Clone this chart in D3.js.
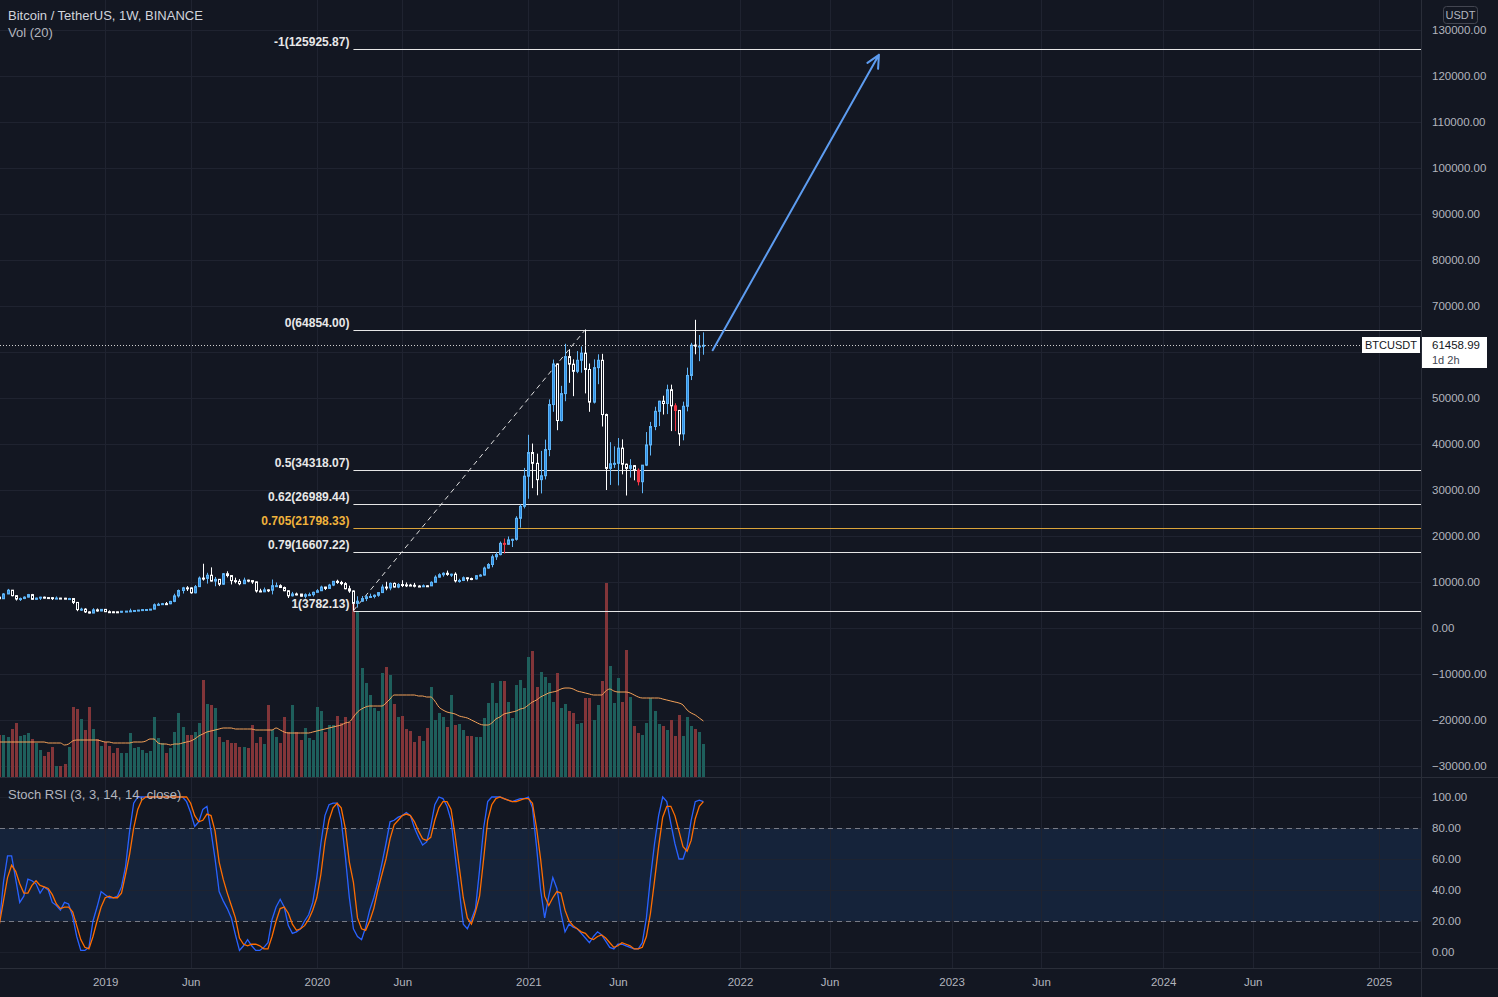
<!DOCTYPE html>
<html><head><meta charset="utf-8">
<script src="https://cdn.jsdelivr.net/npm/d3@7"></script>
<style>
html,body{margin:0;padding:0;background:#131722;overflow:hidden;}
svg{display:block;}
text{font-family:"Liberation Sans",Arial,sans-serif;}
</style></head><body>
<svg id="c" width="1498" height="997"></svg>
<script>
// ---------------- DATA ----------------
const firstWeek = "2018-07-02"; // Monday of first weekly bar
// weekly OHLC [open, high, low, close]
const ohlc = [
[6390,6840,6320,6710],[6710,6780,6070,6360],[6360,7590,6320,7400],[7400,8500,7360,8220],[8220,8270,6880,7030],
[7030,7140,5970,6300],[6300,6620,5880,6400],[6400,6880,6280,6710],[6710,7410,6650,7260],[7260,7410,6110,6240],
[6240,6600,6170,6500],[6500,6800,6100,6700],[6700,6820,6400,6610],[6610,6690,6500,6600],[6600,6680,6080,6400],
[6400,6850,6400,6500],[6500,6550,6390,6480],[6480,6550,6260,6380],[6380,6550,6360,6400],[6400,6410,5200,5560],
[5560,5650,3650,4000],[4000,4400,3700,4100],[4100,4300,3280,3500],[3500,3620,3160,3250],[3250,4300,3230,3950],
[3950,4240,3550,3700],[3700,4100,3650,4050],[4050,4100,3500,3540],[3540,3820,3520,3530],[3530,3640,3490,3520],
[3520,3570,3350,3420],[3420,3700,3370,3640],[3640,3700,3580,3670],[3670,4200,3670,3730],[3730,3900,3680,3810],
[3810,3920,3680,3900],[3900,4050,3830,4000],[4000,4100,3920,4020],[4020,4130,3950,4100],[4100,5340,4080,5050],
[5050,5470,4900,5150],[5150,5450,5050,5290],[5290,5650,5050,5270],[5270,5900,5170,5780],[5780,7450,5600,6980],
[6980,8370,6600,8150],[8150,8950,7500,8730],[8730,9100,8050,8720],[8720,8820,7450,7650],[7650,9350,7530,8990],
[8990,11200,8950,10850],[10850,13970,10300,10780],[10780,12000,9650,11470],[11470,13180,10100,10200],[10200,11100,9070,10580],
[10580,10650,9110,9520],[9520,11950,9400,11800],[11800,12330,11000,11400],[11400,11500,9470,10300],[10300,10950,9700,10140],
[10140,10620,9300,9630],[9630,10950,9600,10400],[10400,10500,9950,10300],[10300,10350,9600,10030],[10030,10070,7700,8050],
[8050,8530,7800,7870],[7870,8800,7800,8290],[8290,8410,7800,8220],[8220,10540,7300,9200],[9200,9900,9000,9200],
[9200,9500,8700,8800],[8800,9000,8000,8100],[8100,8200,6520,7000],[7000,7850,6850,7400],[7400,7700,7100,7380],
[7380,7400,6850,6900],[6900,7530,6430,7230],[7230,7690,7090,7250],[7250,7900,6850,7760],[7760,8450,7700,8100],
[8100,9200,8050,8900],[8900,8950,8250,8600],[8600,9600,8550,9330],[9330,10200,9100,10150],[10150,10500,9600,9900],
[9900,10250,9300,9650],[9650,9960,8410,8530],[8530,9200,7640,8050],[8050,8180,3782,5360],[5360,6900,4440,5830],
[5830,6950,5700,6400],[6400,7200,5850,6780],[6780,7470,6550,6850],[6850,7300,6450,7120],[7120,7750,6800,7700],
[7700,9460,7600,8900],[8900,10050,8200,8700],[8700,9900,8200,9700],[9700,9900,8800,8900],[8900,9750,8650,9450],
[9450,10380,8900,9380],[9380,9900,8900,9330],[9330,9600,9200,9290],[9290,9800,8830,9120],[9120,9300,8900,9070],
[9070,9470,9050,9180],[9180,9300,9050,9160],[9160,10150,9130,9930],[9930,11450,9900,11050],[11050,11900,10950,11580],
[11580,12100,11150,11900],[11900,12480,11350,11650],[11650,11800,11100,11700],[11700,12100,9900,10250],[10250,10700,9850,10330],
[10330,11200,10200,10920],[10920,11000,10150,10750],[10750,10950,10400,10670],[10670,11500,10530,11370],[11370,11700,11200,11500],
[11500,13350,11400,13030],[13030,14100,12900,13800],[13800,15960,13200,15480],[15480,16480,14800,15960],[15960,18800,15800,18400],
[18400,19450,16200,18200],[18200,19900,18100,19150],[19150,19400,17600,19280],[19280,24300,19000,23850],[23850,26900,21800,26450],
[26450,34800,26000,33000],[33000,42000,28100,38150],[38150,40100,30400,35800],[35800,37900,28850,32250],[32250,38500,29250,33100],
[33100,40950,32300,38800],[38800,49700,37350,48580],[48580,58350,47000,57400],[57400,57500,43000,45100],[45100,52640,44900,50960],
[50960,61780,49300,59000],[59000,60600,53300,57350],[57350,58400,50400,55800],[55800,60200,55400,58200],[58200,61200,55500,59750],
[59750,64854,51000,56200],[56200,57500,47000,49100],[49100,58400,48800,56600],[56600,59500,53000,58200],[58200,59600,43800,46400],
[46400,46600,30000,34700],[34700,40400,31100,35700],[35700,39500,34800,35800],[35800,41300,31000,39100],[39100,41000,33400,35600],
[35600,35750,28800,34700],[34700,36700,32700,35300],[35300,35400,32100,34300],[34300,34700,31000,31800],[31800,35400,29300,35400],
[35400,42600,35200,39800],[39800,44800,37500,43800],[43800,48100,43000,47100],[47100,49400,43900,49300],[49300,50500,46400,48800],
[48800,52900,46500,51800],[51800,52900,42800,48300],[48300,48850,42800,47300],[47300,47400,39600,42200],[42200,49200,40800,48200],
[48200,56600,47100,54900],[54900,62000,53900,61500],[61500,67000,59500,61300],[61300,63700,58000,61300],[61300,64270,59400,61459]
];
// weeks whose candle is painted red on the chart
const redWeeks = ["2020-11-23","2021-07-12","2021-09-13"];
// weekly volume (relative units)
const volume = [
42,42,42,40,48,54,41,42,44,38,34,27,21,25,30,11,11,13,30,70,
68,58,47,70,48,38,31,35,31,24,29,24,24,44,29,30,27,24,26,60,
39,34,24,29,45,64,50,42,42,45,54,97,73,72,69,40,35,37,34,34,
30,30,29,52,34,40,33,72,47,40,34,60,45,72,45,37,49,39,37,70,
66,45,52,52,61,54,60,55,179,165,109,94,82,69,66,104,110,102,73,60,
61,48,46,35,41,36,49,90,57,64,60,50,82,52,53,47,41,41,40,40,
59,74,94,74,96,96,75,59,92,97,89,120,126,90,105,100,94,75,104,69,
73,66,64,53,54,79,79,57,72,96,194,111,74,99,75,127,80,51,44,42,
54,79,66,53,51,47,57,41,62,41,60,51,48,45,33
];
// Vol (20) moving average
const volMA = [
35,35,35,35,35,35,35,35,35,35,35,35,35,34,34,34,34,32,33,36,
37,37,37,37,37,37,36,35,35,34,34,34,34,34,35,35,35,36,38,38,
34,33,33,32,33,33,34,35,36,38,41,43,45,46,47,48,49,49,49,48,
48,48,48,48,47,47,47,47,47,49,47,45,44,44,44,44,44,44,45,46,
47,48,49,50,51,52,54,55,60,65,68,70,71,71,71,71,74,78,82,82,
82,82,82,82,81,81,80,80,76,70,67,65,64,63,61,60,59,57,55,53,
52,52,54,58,60,63,64,65,66,68,69,72,75,77,80,82,84,85,86,88,
89,89,88,86,85,84,83,82,82,82,86,88,86,85,85,85,84,82,80,79,
79,79,79,79,78,77,76,75,74,72,67,64,62,59,56
];
// Stoch RSI %K and %D
const stochK = [
8,19,45,62,62,47,32,36,47,46,44,38,42,40,32,30,27,32,31,23,
10,1,1,3,20,29,39,37,35,35,36,42,55,78,96,100,100,100,100,100,
100,100,100,100,100,100,100,97,90,81,84,92,94,78,60,39,33,28,22,11,
1,4,8,4,1,1,3,6,21,29,34,29,17,12,13,15,20,24,32,48,
70,88,95,96,96,85,62,35,15,10,8,16,27,35,45,57,70,84,85,87,
88,90,88,80,74,69,71,81,95,100,99,94,85,62,40,18,15,21,28,53,
80,97,100,100,100,99,98,97,98,99,99,100,93,68,40,22,36,48,41,25,
13,18,16,15,12,9,6,10,13,11,7,3,2,5,5,4,3,2,2,6,
22,48,70,88,100,97,83,70,60,60,68,85,97,98,97
];
const stochD = [
14,18,33,48,56,52,44,38,38,43,46,43,42,41,37,31,28,29,29,26,
17,8,3,2,10,20,29,35,36,35,35,38,50,63,80,92,98,100,100,100,
100,100,100,100,100,100,100,100,96,88,84,85,89,88,78,58,47,38,30,22,
9,5,4,5,5,4,2,2,10,20,28,29,25,18,14,15,17,21,27,35,
50,71,85,93,96,93,80,58,45,22,15,14,20,28,40,50,60,73,82,85,
88,89,88,84,78,73,72,74,85,93,97,97,92,75,55,35,22,18,26,36,
60,85,95,99,100,99,98,97,97,98,99,99,96,80,60,36,30,35,39,38,
27,20,17,15,13,12,9,8,10,11,9,6,3,4,6,5,4,2,2,3,
10,25,46,68,87,94,94,88,78,68,65,72,86,94,97
];
// Fibonacci retracement levels
const fibLevels = ["-1","0","0.5","0.62","0.705","0.79","1"];
const fibPrices = [125925.87,64854.00,34318.07,26989.44,21798.33,16607.22,3782.13];
const fibStart = "2020-03-09";
// trend line (swing low -> swing high) and projection arrow
const trendPts = [["2020-03-09",3782.13],["2021-04-12",64854]];
const arrowPts = [["2021-11-17",60400],["2022-08-30",124600]];
const lastPrice = 61458.99;
const lastTimer = "1d 2h";
// axis ticks (60000 label is hidden behind the last-price tag in the original)
const priceTicks = [-30000,-20000,-10000,0,10000,20000,30000,40000,50000,60000,70000,80000,90000,100000,110000,120000,130000];
const priceLabelTicks = [-30000,-20000,-10000,0,10000,20000,30000,40000,50000,70000,80000,90000,100000,110000,120000,130000];
const stochTicks = [0,20,40,60,80,100];
const timeTicks = [["2019-01-07","2019"],["2019-06-03","Jun"],["2020-01-06","2020"],["2020-06-01","Jun"],["2021-01-04","2021"],["2021-06-07","Jun"],["2022-01-03","2022"],["2022-06-06","Jun"],["2023-01-02","2023"],["2023-06-05","Jun"],["2024-01-01","2024"],["2024-06-03","Jun"],["2025-01-06","2025"]];

// ---------------- LAYOUT ----------------
const W = 1498, H = 997, plotR = 1421;
const paneTop = 0, paneBot = 777, stTop = 778, stBot = 968;
const BG = "#131722", GRID = "#1f2330", TXT = "#b2b5be";
const UP = "#2e8fe6", UPB = "#5fb4f5", DN = "#ffffff", RED = "#f23645";
const FONT = "'Liberation Sans',Arial,sans-serif";

const parse = d3.utcParse("%Y-%m-%d");
const t0 = parse(firstWeek);
const redSet = new Set(redWeeks);
const fmtD = d3.utcFormat("%Y-%m-%d");
const bars = ohlc.map((r, i) => {
  const date = d3.utcDay.offset(t0, 7 * i);
  return { date, o: r[0], h: r[1], l: r[2], c: r[3], red: redSet.has(fmtD(date)),
    v: volume[i], ma: volMA[i], k: stochK[i], d: stochD[i] };
});

const x = d3.scaleUtc().domain([parse("2021-01-04"), parse("2022-01-03")]).range([528.4, 740.0]);
const yP = d3.scaleLinear().domain([0, 130000]).range([628, 30]);
const yV = d3.scaleLinear().domain([0, 195]).range([777, 582]);
const yS = d3.scaleLinear().domain([0, 100]).range([952, 797]);

const svg = d3.select("#c");
svg.append("rect").attr("width", W).attr("height", H).attr("fill", BG);
const defs = svg.append("defs");
defs.append("clipPath").attr("id", "cp").append("rect").attr("x", 0).attr("y", paneTop).attr("width", plotR).attr("height", paneBot - paneTop);
defs.append("clipPath").attr("id", "cs").append("rect").attr("x", 0).attr("y", stTop).attr("width", plotR).attr("height", stBot - stTop);

// ---------------- STOCH BAND (under grid) ----------------
svg.append("rect").attr("x", 0).attr("width", plotR).attr("y", yS(80)).attr("height", yS(20) - yS(80)).attr("fill", "#15233a");

// grid
const grid = svg.append("g");
grid.selectAll("line.h").data(priceTicks).join("line")
  .attr("x1", 0).attr("x2", plotR).attr("y1", d => Math.round(yP(d)) + 0.5).attr("y2", d => Math.round(yP(d)) + 0.5)
  .attr("stroke", GRID);
grid.selectAll("line.s").data(stochTicks).join("line")
  .attr("x1", 0).attr("x2", plotR).attr("y1", d => Math.round(yS(d)) + 0.5).attr("y2", d => Math.round(yS(d)) + 0.5)
  .attr("stroke", GRID).attr("stroke-opacity", 0.8);
grid.selectAll("line.v").data(timeTicks).join("line")
  .attr("x1", d => Math.round(x(parse(d[0]))) + 0.5).attr("x2", d => Math.round(x(parse(d[0]))) + 0.5)
  .attr("y1", 0).attr("y2", stBot).attr("stroke", GRID);

// ---------------- PRICE PANE ----------------
const gp = svg.append("g").attr("clip-path", "url(#cp)");
const bx = d => Math.round(x(d.date));

// volume
gp.selectAll("rect.vol").data(bars).join("rect")
  .attr("x", d => bx(d) - 1).attr("width", 3)
  .attr("y", d => yV(d.v)).attr("height", d => yV(0) - yV(d.v))
  .attr("fill", d => d.c >= d.o ? "#1e5f5c" : "#823539");
gp.append("path").datum(bars)
  .attr("d", d3.line().x(d => x(d.date)).y(d => yV(d.ma)).curve(d3.curveMonotoneX))
  .attr("fill", "none").attr("stroke", "#f4a259").attr("stroke-width", 1);

// fib levels
const xFib = x(parse(fibStart));
const fibs = fibLevels.map((l, i) => ({ l, p: fibPrices[i] }));
gp.selectAll("line.fib").data(fibs).join("line")
  .attr("x1", xFib).attr("x2", plotR)
  .attr("y1", d => Math.round(yP(d.p)) + 0.5).attr("y2", d => Math.round(yP(d.p)) + 0.5)
  .attr("stroke", d => d.l === "0.705" ? "#d9a33a" : "#e6e6e6").attr("stroke-width", 1);
gp.selectAll("text.fib").data(fibs).join("text")
  .attr("x", xFib - 4).attr("y", d => yP(d.p) - 3)
  .attr("text-anchor", "end").attr("font-size", 12).attr("font-weight", "bold")
  .attr("fill", d => d.l === "0.705" ? "#f0b33c" : "#e8e8e8")
  .text(d => `${d.l}(${d3.format(".2f")(d.p)})`);

// trend line
gp.append("line")
  .attr("x1", x(parse(trendPts[0][0]))).attr("y1", yP(trendPts[0][1]))
  .attr("x2", x(parse(trendPts[1][0]))).attr("y2", yP(trendPts[1][1]))
  .attr("stroke", "#e0e0e0").attr("stroke-width", 1).attr("stroke-dasharray", "5,4");

// candles
const wickCol = d => d.red ? RED : (d.c >= d.o ? UPB : DN);
gp.selectAll("line.wick").data(bars).join("line")
  .attr("x1", d => bx(d) + 0.5).attr("x2", d => bx(d) + 0.5)
  .attr("y1", d => yP(d.h)).attr("y2", d => yP(d.l))
  .attr("stroke", wickCol).attr("stroke-width", 1);
gp.selectAll("rect.body").data(bars).join("rect")
  .attr("x", d => bx(d) - 0.5).attr("width", 2)
  .attr("y", d => Math.min(yP(d.o), yP(d.c))).attr("height", d => Math.max(1, Math.abs(yP(d.o) - yP(d.c))))
  .attr("fill", d => d.red ? RED : (d.c >= d.o ? UP : BG))
  .attr("stroke", wickCol).attr("stroke-width", 1);

// current price dotted line
gp.append("line").attr("x1", 0).attr("x2", plotR)
  .attr("y1", Math.round(yP(lastPrice)) + 0.5).attr("y2", Math.round(yP(lastPrice)) + 0.5)
  .attr("stroke", "#d0d0d0").attr("stroke-dasharray", "1,2");

// projection arrow
const a0 = [x(parse(arrowPts[0][0])), yP(arrowPts[0][1])];
const a1 = [x(parse(arrowPts[1][0])), yP(arrowPts[1][1])];
const ang = Math.atan2(a1[1] - a0[1], a1[0] - a0[0]);
const ah = 14, aw = 0.45;
gp.append("path")
  .attr("d", `M${a0[0]},${a0[1]}L${a1[0]},${a1[1]}M${a1[0] - ah * Math.cos(ang - aw)},${a1[1] - ah * Math.sin(ang - aw)}L${a1[0]},${a1[1]}L${a1[0] - ah * Math.cos(ang + aw)},${a1[1] - ah * Math.sin(ang + aw)}`)
  .attr("fill", "none").attr("stroke", "#5d9cf0").attr("stroke-width", 2).attr("stroke-linecap", "round").attr("stroke-linejoin", "round");

// ---------------- STOCH RSI PANE ----------------
const gs = svg.append("g").attr("clip-path", "url(#cs)");
[80, 20].forEach(v => gs.append("line").attr("x1", 0).attr("x2", plotR)
  .attr("y1", Math.round(yS(v)) + 0.5).attr("y2", Math.round(yS(v)) + 0.5)
  .attr("stroke", "#787b86").attr("stroke-dasharray", "5,4"));
gs.append("path").datum(bars).attr("d", d3.line().x(d => x(d.date)).y(d => yS(d.k)))
  .attr("fill", "none").attr("stroke", "#2962ff").attr("stroke-width", 1.3);
gs.append("path").datum(bars).attr("d", d3.line().x(d => x(d.date)).y(d => yS(d.d)))
  .attr("fill", "none").attr("stroke", "#ff6d00").attr("stroke-width", 1.3);

// ---------------- SEPARATORS ----------------
svg.append("line").attr("x1", 0).attr("x2", W).attr("y1", 777.5).attr("y2", 777.5).attr("stroke", "#2a2e39");
svg.append("line").attr("x1", 0).attr("x2", W).attr("y1", 968.5).attr("y2", 968.5).attr("stroke", "#2a2e39");
svg.append("line").attr("x1", plotR + 0.5).attr("x2", plotR + 0.5).attr("y1", 0).attr("y2", H).attr("stroke", "#2a2e39");

// ---------------- AXES ----------------
const fmtP = v => (v < 0 ? "\u2212" : "") + d3.format(".2f")(Math.abs(v));
const axP = svg.append("g").attr("transform", `translate(${plotR + 7},0)`)
  .call(d3.axisRight(yP).tickValues(priceLabelTicks).tickFormat(fmtP).tickSize(0).tickPadding(4));
const axS = svg.append("g").attr("transform", `translate(${plotR + 7},0)`)
  .call(d3.axisRight(yS).tickValues(stochTicks).tickFormat(d3.format(".2f")).tickSize(0).tickPadding(4));
const axT = svg.append("g").attr("transform", `translate(0,${stBot + 8})`)
  .call(d3.axisBottom(x).tickValues(timeTicks.map(d => parse(d[0]))).tickFormat((d, i) => timeTicks[i][1]).tickSize(0).tickPadding(2));
[axP, axS, axT].forEach(a => {
  a.select(".domain").remove();
  a.selectAll("text").attr("fill", TXT).attr("font-size", 11.5).attr("font-family", FONT);
});

// USDT box
svg.append("rect").attr("x", 1443.5).attr("y", 6.5).attr("width", 34).attr("height", 17).attr("rx", 3)
  .attr("fill", "none").attr("stroke", "#434651");
svg.append("text").attr("x", 1460.5).attr("y", 19).attr("text-anchor", "middle").attr("font-size", 11).attr("fill", TXT).text("USDT");

// last price labels
const yl = Math.round(yP(lastPrice));
svg.append("rect").attr("x", 1362).attr("y", yl - 8).attr("width", 58).attr("height", 16).attr("fill", "#ffffff");
svg.append("text").attr("x", 1391).attr("y", yl + 4).attr("text-anchor", "middle").attr("font-size", 11).attr("fill", BG).text("BTCUSDT");
svg.append("rect").attr("x", 1422).attr("y", yl - 8).attr("width", 65).attr("height", 31).attr("fill", "#ffffff");
svg.append("text").attr("x", 1432).attr("y", yl + 4).attr("font-size", 11.5).attr("fill", BG).text(d3.format(".2f")(lastPrice));
svg.append("text").attr("x", 1432).attr("y", yl + 19).attr("font-size", 11).attr("fill", "#434651").text(lastTimer);

// titles
svg.append("text").attr("x", 8).attr("y", 20).attr("font-size", 13).attr("fill", "#d1d4dc").text("Bitcoin / TetherUS, 1W, BINANCE");
svg.append("text").attr("x", 8).attr("y", 37).attr("font-size", 13).attr("fill", "#b2b5be").text("Vol (20)");
svg.append("text").attr("x", 8).attr("y", 799).attr("font-size", 13).attr("fill", "#b2b5be").text("Stoch RSI (3, 3, 14, 14, close)");
</script>
</body></html>
